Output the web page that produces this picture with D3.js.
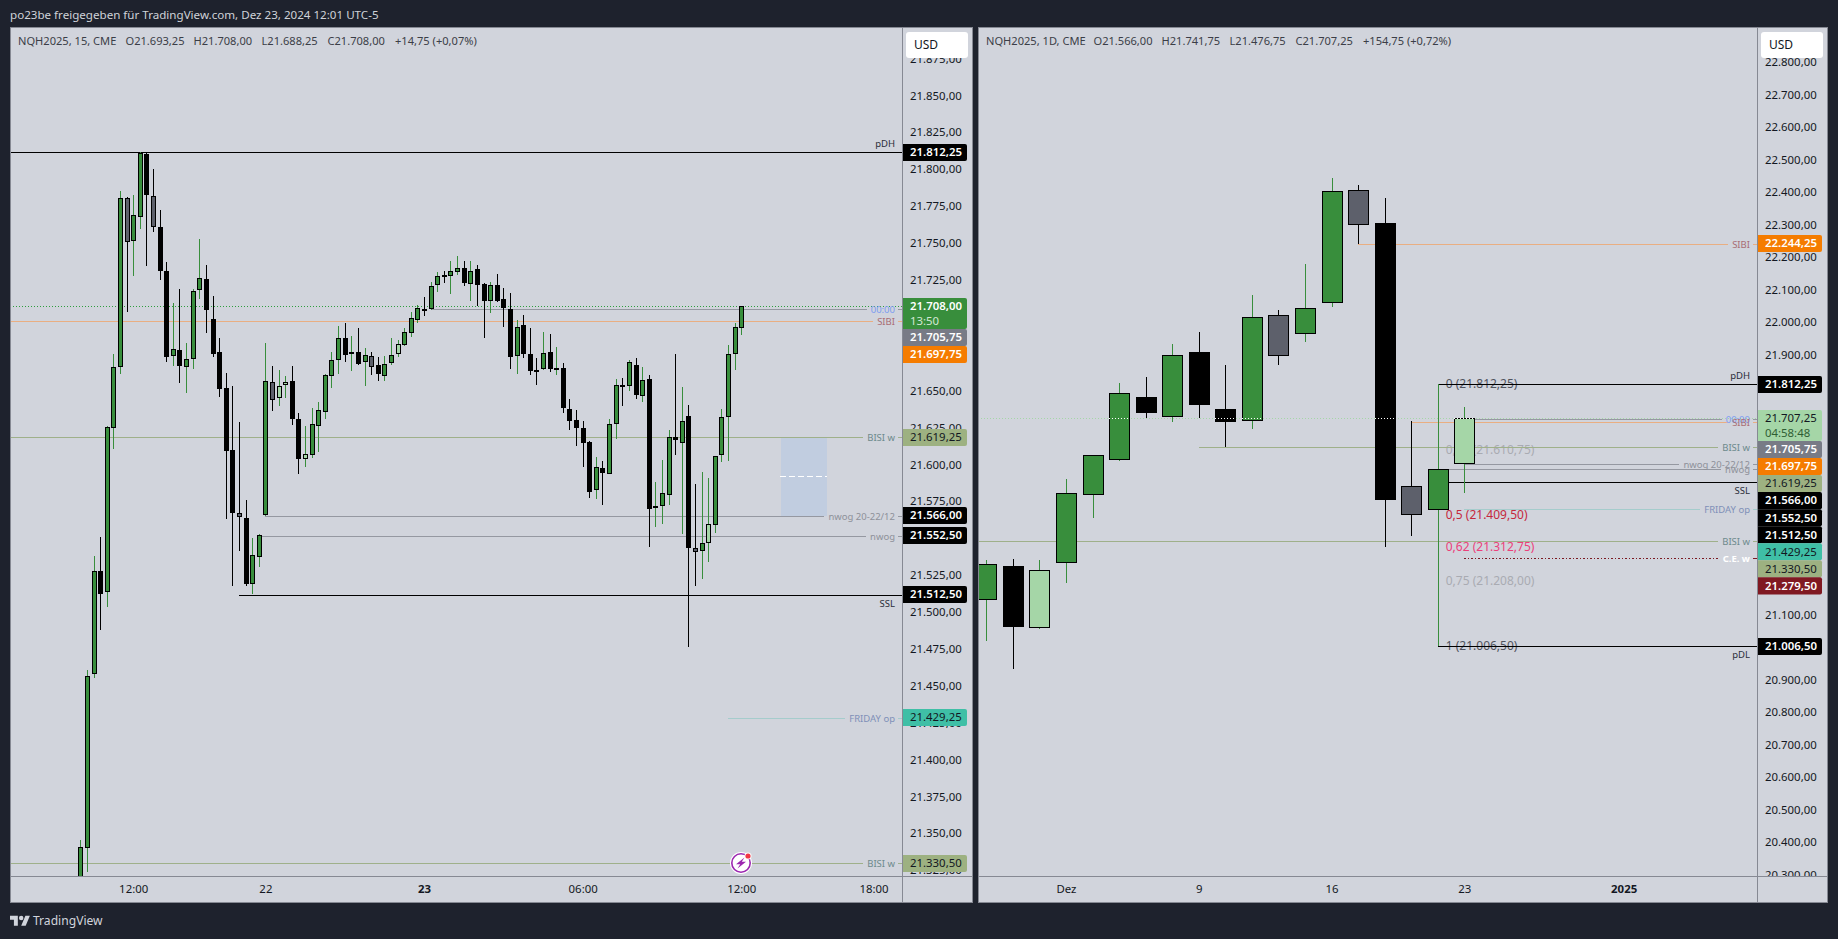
<!DOCTYPE html>
<html lang="de">
<head>
<meta charset="utf-8">
<title>NQH2025</title>
<script src="https://cdn.jsdelivr.net/npm/d3@7/dist/d3.min.js"></script>
<style>
html,body{margin:0;padding:0;background:#1e222d;overflow:hidden}
svg{display:block}
text{font-family:"Noto Sans",sans-serif;font-size:11.4px}
.mark{shape-rendering:crispEdges}
</style>
</head>
<body>
<svg id="chart" width="1838" height="939"></svg>
<script>
// ---------- data: 15 minute chart ----------
const intraOpen = [21310,21341.3,21458.6,21528.4,21513.9,21625,21666.3,21781,21751.7,21768.6,21811,21782.4,21761.4,21731.6,21673.8,21678.1,21666.3,21672,21718.8,21726.2,21699,21676.7,21652.4,21610.3,21567.6,21564.3,21519.3,21537.6,21566.3,21656.4,21645.3,21654.1,21657.1,21631.3,21604,21606.7,21626.3,21635.8,21660.2,21671,21686.2,21675.1,21676.7,21669.7,21674,21667.9,21660.2,21669,21675.1,21681.5,21689.3,21698.6,21705.9,21705.9,21722.1,21728.9,21728.2,21731,21733.7,21722.8,21733,21722.8,21711.5,21722.3,21712.6,21705.9,21674,21695,21675.4,21664.7,21665,21677,21665.6,21665.9,21638.1,21630.6,21625.2,21616,21583.2,21598.1,21594,21628,21654.4,21653.4,21667.9,21646.9,21658.7,21571.5,21572.1,21580.3,21619.1,21615.7,21633.4,21544,21541.6,21547.3,21559.2,21606.7,21632.7,21675.1,21693.25];
const intraHigh = [21346.3,21461.5,21538.7,21551.6,21626.8,21675.6,21786,21781.8,21783.3,21812.25,21812,21801,21773.2,21737.7,21710,21719.6,21683,21719.6,21753.5,21735.9,21714.9,21686.4,21662.5,21653.9,21629.5,21576.5,21550.7,21553.6,21683,21667.5,21664.7,21660.7,21667.5,21635.6,21626.8,21639,21643,21662,21677,21694.6,21696.6,21687.8,21693.2,21679.6,21677,21673.5,21674.2,21686.4,21685,21693.2,21704.3,21708.8,21714.2,21724.2,21731,21731.6,21738.4,21741.8,21738.4,21738.4,21735.7,21723.5,21724.2,21729.8,21720.1,21716.9,21698.4,21702,21693.2,21672.7,21690.3,21689.2,21680.1,21669.5,21644.9,21637.4,21630,21616.5,21605.8,21603,21631.3,21658.5,21659.3,21671.5,21672.9,21666.8,21661.4,21588.9,21603.8,21623.9,21675.6,21653.2,21641,21587.5,21595.6,21591.4,21606.5,21638.3,21681.7,21696.4,21708];
const intraLow = [21305,21324.8,21456.3,21488.6,21504.4,21611.4,21662.2,21704.3,21728.6,21760.5,21735.4,21758.5,21725.7,21670.4,21667.5,21656.1,21649.4,21665.6,21712.9,21690,21673.8,21646.6,21563.8,21518.6,21542.3,21518.6,21512.8,21531.5,21566,21637.2,21640.4,21645.8,21627.5,21594.5,21599,21605.3,21609.4,21631.8,21652.8,21662,21670.4,21664,21668,21654.1,21661.4,21657.5,21657.5,21668.3,21673.8,21681,21687.1,21696.8,21701.5,21705.5,21717.8,21723.7,21716.4,21728.9,21721.9,21711.7,21707.9,21686.6,21703.6,21711,21694.1,21665.4,21662,21672.9,21661.5,21654.8,21664.9,21663.6,21661.5,21635.4,21624,21613.5,21599,21578.2,21577.5,21573.5,21594,21618,21640.4,21650.7,21645.3,21643,21545,21558.6,21560.6,21573.3,21607.4,21553.8,21477.3,21518.4,21523.2,21534.9,21554.3,21602.6,21603.3,21664.7,21688.25];
const intraClose = [21341.3,21457.6,21528.4,21512.5,21625.9,21666.6,21781,21751,21769.5,21812,21782.9,21761.2,21731.4,21673.1,21678.8,21667,21672,21718,21726.9,21704.9,21675.1,21651.4,21610,21567.4,21564.7,21519.3,21539.2,21552.8,21657.1,21644.2,21653.7,21656.4,21631.1,21604,21607.6,21628,21637.4,21661.2,21671.3,21686.2,21674.4,21676.7,21668.3,21674.7,21666.3,21661.5,21668.6,21674.7,21682.2,21690.3,21699.8,21706.5,21704.9,21721.5,21728.2,21728.2,21731.6,21733.7,21723.5,21731.6,21722.1,21711,21722.1,21711.5,21706.3,21673.1,21693.7,21675.1,21663.6,21663.9,21676,21665.4,21666.3,21638.5,21629.7,21625,21614.8,21582.3,21598.8,21594.5,21628,21654.4,21653.7,21670,21647.3,21657.8,21570.8,21572.6,21581.2,21619.6,21616.9,21630.4,21543.7,21541.2,21547.3,21560.2,21606.2,21632.7,21675.4,21693.7,21708];
const intraKinds = ["g","g","g","k","g","g","g","s","g","g","k","s","k","k","g","k","g","g","g","k","k","k","k","k","s","k","g","g","g","s","l","l","k","k","l","g","g","g","g","g","k","g","k","g","s","k","g","g","l","g","g","g","k","g","g","k","g","g","k","g","k","k","g","k","k","k","g","k","k","k","g","k","g","k","k","k","k","k","g","k","g","g","k","g","k","g","k","g","g","g","k","g","k","s","g","l","g","g","g","g","g"];
const intraTimeBars = [8,28,52,76,100,120];
const intraTimeLabels = ["12:00","22","23","06:00","12:00","18:00"];
const intraTimeBold = ["23"];
const intraTicks = [21875,21850,21825,21800,21775,21750,21725,21700,21675,21650,21625,21600,21575,21550,21525,21500,21475,21450,21425,21400,21375,21350,21325];
const intraLevelPrices = [21812.25,21705.75,21697.75,21619.25,21566,21552.5,21512.5,21429.25,21330.5];
const intraLevelNames = ["pDH","00:00","SIBI","BISI w","nwog 20-22/12","nwog","SSL","FRIDAY op","BISI w"];
const intraLevelStart = [null,53,null,null,28,27,24,98,null];
const intraLevelStyle = ["hi","clock","sibi","bisi","nwog","nwog","lo","friday","bisi"];
const intraTagPrices = [21812.25,21708,21705.75,21697.75,21619.25,21566,21552.5,21512.5,21429.25,21330.5];
const intraTagStyle = ["black","green","gray","orange","olive","black","black","black","teal","olive"];
const intraZone = [21619.25,21566];
const intraZoneBars = [106,113];
const intraLast = 21708;
const intraCountdown = "13:50";
const intraLegend = ["NQH2025, 15, CME","O21.693,25","H21.708,00","L21.688,25","C21.708,00","+14,75 (+0,07%)"];

// ---------- data: daily chart ----------
const dayOpen = [21148,21252.5,21061.9,21261.8,21470.9,21577.3,21772.3,21709.6,21910.7,21735.4,21697.2,22024.5,21966,22060.1,22408.9,22308.3,21498.6,21426.6,21566];
const dayHigh = [21271.9,21275,21271.9,21521,21594,21815.3,21834.7,21936.2,21973,21871.6,22086.9,22040.8,22182.2,22446.7,22425.2,22385.2,21699.4,21812.25,21741.75];
const dayLow = [21023.7,20937.6,21061,21201.1,21402,21577,21709.6,21697.2,21707.7,21620.4,21675.7,21872.6,21942.3,22050,22243.7,21312.8,21345.8,21006.5,21476.75];
const dayClose = [21258.7,21063.7,21240.2,21477,21593.9,21784.6,21721.9,21901.4,21746.4,21694.2,22018.3,21897.1,22046,22405.8,22300,21456.4,21408.2,21552.5,21707.25];
const dayKinds = ["g","k","l","g","g","g","k","g","k","k","g","s","g","g","s","k","s","g","l"];
const dayTimeBars = [3,8,13,18,24];
const dayTimeLabels = ["Dez","9","16","23","2025"];
const dayTimeBold = ["2025"];
const dayTicks = [22800,22700,22600,22500,22400,22300,22200,22100,22000,21900,21800,21700,21600,21500,21400,21300,21200,21100,21000,20900,20800,20700,20600,20500,20400,20300];
const dayLevelPrices = [21812.25,22244.25,21705.75,21697.75,21619.25,21566,21552.5,21512.5,21429.25,21330.5,21279.5,21006.5];
const dayLevelNames = ["pDH","SIBI","00:00","SIBI","BISI w","nwog 20-22/12","nwog","SSL","FRIDAY op","BISI w","C.E. w","pDL"];
const dayLevelStart = [17,14,18,16,8,18,17,17,18,null,18,17];
const dayLevelStyle = ["hi","sibi","clock","sibi","bisi","nwog","nwog","lo","friday","bisi","ce","lo"];
const dayTagPrices = [22244.25,21812.25,21707.25,21705.75,21697.75,21619.25,21566,21552.5,21512.5,21429.25,21330.5,21279.5,21006.5];
const dayTagStyle = ["orange","black","lime","gray","orange","olive","black","black","black","teal","olive","maroon","black"];
const dayLast = 21707.25;
const dayCountdown = "04:58:48";
const dayLegend = ["NQH2025, 1D, CME","O21.566,00","H21.741,75","L21.476,75","C21.707,25","+154,75 (+0,72%)"];
const fibPrices = [21812.25,21610.75,21409.5,21312.75,21208,21006.5];
const fibRatios = ["0","0,25","0,5","0,62","0,75","1"];

const shareTitle = "po23be freigegeben für TradingView.com, Dez 23, 2024 12:01 UTC-5";
const brandName = "TradingView";

// ---------- styles ----------
const fillOf = {g:"#388e3c",l:"#a5d6a7",k:"#000000",s:"#5d606b"};
const wickOf = {g:"#388e3c",l:"#388e3c",k:"#000000",s:"#000000"};
const levelCss = {
  hi:{line:"#000",text:"#2a2e39",w:1,pos:"above"},
  lo:{line:"#000",text:"#2a2e39",w:1,pos:"below"},
  clock:{line:"#9598a1",text:"#7c9cf0",w:1,pos:"mid"},
  sibi:{line:"#e9ae82",text:"#a96d74",w:1,pos:"mid"},
  bisi:{line:"#9fb08a",text:"#6d8a8c",w:1,pos:"mid"},
  nwog:{line:"#9598a1",text:"#8e919a",w:1,pos:"mid"},
  friday:{line:"#a5cccc",text:"#7f90b8",w:1,pos:"mid"},
  ce:{line:"#7b1a22",text:"#ffffff",w:1,pos:"mid",dash:"1.5 2",bold:true}
};
const tagCss = {
  black:{bg:"#000",fg:"#fff"},green:{bg:"#388e3c",fg:"#fff",sub:"#d4e8d5"},gray:{bg:"#787b86",fg:"#fff"},
  orange:{bg:"#f57c00",fg:"#fff"},olive:{bg:"#9db181",fg:"#131722"},teal:{bg:"#3fbfa6",fg:"#131722"},
  maroon:{bg:"#801922",fg:"#fff"},lime:{bg:"#a5d6a7",fg:"#131722",sub:"#2f5e33"}
};
const priceFmt = d3.formatLocale({decimal:",",thousands:".",grouping:[3],currency:["","$"]}).format(",.2f");
const svg = d3.select("#chart");

function drawPanel(cfg){
  const L=cfg.left,R=cfg.right,A=cfg.axisX,T=27,B=876,F=903;
  const root=svg.append("g");
  root.append("rect").attr("class","mark").attr("x",L).attr("y",T).attr("width",R-L).attr("height",F-T).attr("fill","#d1d4dc");
  const defs=svg.append("defs");
  const pid="plot"+cfg.id, aid="axis"+cfg.id;
  defs.append("clipPath").attr("id",pid).append("rect").attr("x",L).attr("y",T).attr("width",A-L).attr("height",B-T);
  defs.append("clipPath").attr("id",aid).append("rect").attr("x",A).attr("y",T).attr("width",R-A).attr("height",B-T);

  const x=cfg.x,y=cfg.y;
  const snapY=v=>Math.round(y(v))+.5, snapX=v=>Math.round(x(v));
  const plot=root.append("g").attr("clip-path",`url(#${pid})`);

  // zone
  if(cfg.zone){
    const [a,b]=cfg.zone,[i0,i1]=cfg.zoneBars;
    plot.append("rect").attr("class","mark").attr("x",x(i0)).attr("width",x(i1)-x(i0)).attr("y",y(a)).attr("height",y(b)-y(a)).attr("fill","#c1cde0");
    plot.append("line").attr("class","mark").attr("x1",x(i0)-1).attr("x2",x(i1)).attr("y1",snapY((a+b)/2)).attr("y2",snapY((a+b)/2)).attr("stroke","#fff").attr("stroke-dasharray","6 3");
  }

  // fib labels under everything
  if(cfg.fib){
    const colours=["#50535e","#a9abb2","#c5283d","#ec407a","#a9abb2","#50535e"];
    cfg.fib.prices.forEach((p,i)=>{
      plot.append("text").attr("x",x(cfg.fib.bar)+8).attr("y",y(p)).attr("dy",".32em")
        .style("font-size","12px").attr("fill",colours[i])
        .text(`${cfg.fib.ratios[i]} (${priceFmt(p)})`);
    });
  }

  // levels: labels measured first, the line then stops short of its label
  const labelG=root.append("g");
  cfg.levels.prices.forEach((p,i)=>{
    const st=levelCss[cfg.levels.style[i]];
    const yy=snapY(p);
    const dy=st.pos==="above"?-8.5:st.pos==="below"?8.5:0;
    const t=labelG.append("text").attr("x",A-7).attr("y",yy+dy).attr("dy",".32em").attr("text-anchor","end")
      .attr("fill",st.text).style("font-size","9.5px").style("font-weight",st.bold?"700":"400").text(cfg.levels.names[i]);
    const tw=t.node().getComputedTextLength();
    const start=cfg.levels.start[i]===null?L:x(cfg.levels.start[i]);
    const end=st.pos==="mid"?A-7-tw-4:A;
    plot.append("line").attr("class","mark").attr("x1",start).attr("x2",end).attr("y1",yy).attr("y2",yy)
      .attr("stroke",st.line).attr("stroke-width",st.w).attr("stroke-dasharray",st.dash||null);
    if(st.pos==="mid") root.append("line").attr("class","mark").attr("x1",A-4).attr("x2",A).attr("y1",yy).attr("y2",yy).attr("stroke",st.line);
  });

  // last price
  plot.append("line").attr("class","mark").attr("x1",L).attr("x2",A).attr("y1",snapY(cfg.last)).attr("y2",snapY(cfg.last))
    .attr("stroke",cfg.lastColor).attr("stroke-dasharray","1 2");

  // candles
  const n=cfg.open.length, idx=d3.range(n), half=cfg.half;
  const bars=plot.append("g");
  bars.selectAll("line").data(idx).join("line").attr("class","mark")
    .attr("x1",i=>snapX(i)+.5).attr("x2",i=>snapX(i)+.5)
    .attr("y1",i=>Math.round(y(cfg.high[i]))).attr("y2",i=>Math.round(y(cfg.low[i])))
    .attr("stroke",i=>wickOf[cfg.kinds[i]]);
  bars.selectAll("rect").data(idx).join("rect").attr("class","mark")
    .attr("x",i=>snapX(i)-half+.5).attr("width",half*2)
    .attr("y",i=>Math.round(Math.min(y(cfg.open[i]),y(cfg.close[i])))+.5)
    .attr("height",i=>Math.max(1,Math.round(Math.abs(y(cfg.open[i])-y(cfg.close[i])))-1))
    .attr("fill",i=>fillOf[cfg.kinds[i]]).attr("stroke","#000").attr("stroke-width",1);

  // dotted last price shows white where it crosses a candle body on the daily chart
  if(cfg.whiteDots){
    idx.filter(i=>Math.min(cfg.open[i],cfg.close[i])<=cfg.last&&Math.max(cfg.open[i],cfg.close[i])>=cfg.last).forEach(i=>{
      plot.append("line").attr("class","mark").attr("x1",snapX(i)-half).attr("x2",snapX(i)+half+1)
        .attr("y1",snapY(cfg.last)).attr("y2",snapY(cfg.last)).attr("stroke","#fff").attr("stroke-dasharray","1 2");
    });
  }
  labelG.raise();

  // axes
  const ay=root.append("g").attr("clip-path",`url(#${aid})`).append("g").attr("transform",`translate(${A},-1.2)`)
    .call(d3.axisRight(y).tickValues(cfg.ticks).tickSize(0).tickPadding(8).tickFormat(priceFmt));
  ay.select(".domain").remove();
  ay.selectAll("text").attr("fill","#131722").style("font-family",'"Noto Sans",sans-serif').style("font-size","11.4px");
  const ax=root.append("g").attr("transform",`translate(0,${B})`)
    .call(d3.axisBottom(x).tickValues(cfg.timeBars).tickSize(0).tickPadding(9).tickFormat((d,i)=>cfg.timeLabels[i]));
  ax.select(".domain").remove();
  ax.selectAll("text").attr("fill","#131722").style("font-family",'"Noto Sans",sans-serif').style("font-size","11.4px")
    .style("font-weight",(d,i)=>cfg.timeBold.includes(cfg.timeLabels[i])?"700":"400");

  // frame lines
  root.append("path").attr("class","mark").attr("fill","none").attr("stroke","#868993")
    .attr("d",`M${A+.5},${T}V${F}M${L},${B+.5}H${R}`);
  root.append("rect").attr("class","mark").attr("x",L+.5).attr("y",T+.5).attr("width",R-L-1).attr("height",F-T-1).attr("fill","none").attr("stroke","#868993");

  // price tags: pushed down so that they stack without overlap
  const tagH=17.05, lineH=14.5;
  let cursor=-Infinity;
  cfg.tags.prices.forEach((p,i)=>{
    if(y(p)<T) return;
    const st=tagCss[cfg.tags.style[i]];
    const two=p===cfg.last;
    const h=two?tagH+lineH-.6:tagH;
    const top=Math.max(Math.round(y(p)-8.5),cursor);
    cursor=top+h;
    const g=root.append("g");
    g.append("path").attr("fill",st.bg)
      .attr("d",`M${A+1},${top}H${A+65-2}a2,2 0 0 1 2,2V${top+h-2}a2,2 0 0 1 -2,2H${A+1}Z`);
    g.append("text").attr("x",A+8).attr("y",top+8.5).attr("dy",".34em").attr("fill",st.fg)
      .style("font-size","11.4px").style("font-weight",st.fg==="#fff"?"600":"400").text(priceFmt(p));
    if(two) g.append("text").attr("x",A+8).attr("y",top+8.5+lineH).attr("dy",".34em").attr("fill",st.sub)
      .style("font-size","11.4px").text(cfg.countdown);
  });

  // currency button
  root.append("rect").attr("x",A+4).attr("y",32).attr("width",cfg.usdW).attr("height",26).attr("rx",3).attr("fill","#fff");
  root.append("text").attr("x",A+12).attr("y",44.5).attr("dy",".34em").attr("fill","#131722").style("font-size","12px").text("USD");

  // legend
  const legendOffsets=[0,107.5,175.5,243.5,309.5,377];
  cfg.legend.forEach((s,i)=>{
    root.append("text").attr("x",L+8+legendOffsets[i]).attr("y",41.5).attr("dy",".34em").attr("fill","#3b3e47")
      .style("font-size","11.1px").text(s);
  });
}

// page title
svg.append("text").attr("x",10).attr("y",15).attr("dy",".34em").attr("fill","#cfd2d8").style("font-size","11.6px").text(shareTitle);

drawPanel({
  id:"A",left:10,right:973,axisX:902,usdW:62,half:2,
  x:d3.scaleLinear([0,100],[80.3,741.3]),
  y:d3.scaleLinear([21812.25,21330.5],[152.3,863.3]),
  open:intraOpen,high:intraHigh,low:intraLow,close:intraClose,kinds:intraKinds,
  ticks:intraTicks,timeBars:intraTimeBars,timeLabels:intraTimeLabels,timeBold:intraTimeBold,
  levels:{prices:intraLevelPrices,names:intraLevelNames,start:intraLevelStart,style:intraLevelStyle},
  tags:{prices:intraTagPrices,style:intraTagStyle},
  zone:intraZone,zoneBars:intraZoneBars,last:intraLast,lastColor:"#2e9e3e",countdown:intraCountdown,legend:intraLegend
});
drawPanel({
  id:"B",left:978,right:1828,axisX:1757,usdW:62,half:10,
  x:d3.scaleLinear([0,18],[986.3,1464.3]),
  y:d3.scaleLinear([21812.25,21006.5],[384.3,646.3]),
  open:dayOpen,high:dayHigh,low:dayLow,close:dayClose,kinds:dayKinds,
  ticks:dayTicks,timeBars:dayTimeBars,timeLabels:dayTimeLabels,timeBold:dayTimeBold,
  levels:{prices:dayLevelPrices,names:dayLevelNames,start:dayLevelStart,style:dayLevelStyle},
  tags:{prices:dayTagPrices,style:dayTagStyle},
  fib:{prices:fibPrices,ratios:fibRatios,bar:17},
  last:dayLast,lastColor:"#a5d6a7",whiteDots:true,countdown:dayCountdown,legend:dayLegend
});

// alert badge on the intraday chart
const badge=svg.append("g").attr("transform","translate(741,863)");
badge.append("circle").attr("r",11).attr("fill","#fff");
badge.append("circle").attr("r",9.2).attr("fill","#fff").attr("stroke","#9c27b0").attr("stroke-width",1.6);
badge.append("path").attr("d","M3.5,-5.5L-5,1.2H-0.8L-3.5,5.5L5,-1.2H0.8Z").attr("fill","#9c27b0");
badge.append("circle").attr("cx",7).attr("cy",-7).attr("r",3.5).attr("fill","#fff");
badge.append("circle").attr("cx",7).attr("cy",-7).attr("r",2.6).attr("fill","#f23645");

// footer brand
const brand=svg.append("g").attr("transform","translate(10,913.5) scale(0.56)").attr("fill","#d1d4dc");
brand.append("path").attr("d","M14 22H7V11H0V4h14v18zM28 22h-8l7.5-18h8L28 22z");
brand.append("circle").attr("cx",20).attr("cy",8).attr("r",4);
svg.append("text").attr("x",33).attr("y",921).attr("dy",".34em").attr("fill","#d1d4dc").style("font-size","12.1px").text(brandName);
</script>
</body>
</html>
